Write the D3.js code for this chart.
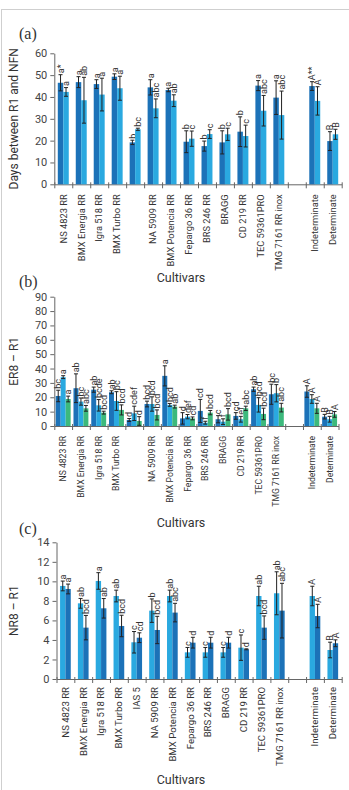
<!DOCTYPE html>
<html><head><meta charset="utf-8">
<script src="https://cdn.jsdelivr.net/npm/d3@7"></script>
<style>
body{margin:0;background:#fff;}
svg{display:block;}
text{font-family:Roboto,"Liberation Sans",sans-serif;}
</style></head>
<body><svg id="chart" width="349" height="790"></svg>
<script>
// ---------- DATA ----------
const categories = ["NS 4823 RR","BMX Energia RR","Igra 518 RR","BMX Turbo RR","IAS 5","NA 5909 RR","BMX Potencia RR","Fepargo 36 RR","BRS 246 RR","BRAGG","CD 219 RR","TEC 59361PRO","TMG 7161 RR inox","","Indeterminate","Determinate"];
const labelsAB = ["NS 4823 RR","BMX Energia RR","Igra 518 RR","BMX Turbo RR","","NA 5909 RR","BMX Potencia RR","Fepargo 36 RR","BRS 246 RR","BRAGG","CD 219 RR","TEC 59361PRO","TMG 7161 RR inox","","Indeterminate","Determinate"];
const labelsC = categories;

const ticksA = [0,10,20,30,40,50,60];
const ticksB = [0,10,20,30,40,50,60,70,80,90];
const ticksC = [0,2,4,6,8,10,12,14];

// Panel (a): days between R1 and NFN
const aDark      = [46.5,46.8,45.9,49.3,19.2,44.4,43.2,19.5,17.5,19.2,24.1,45.2,39.7,null,45.0,19.8];
const aDarkErr   = [3.7,2.5,2.0,1.3,1.0,3.5,0.8,5.0,2.3,5.3,6.8,2.3,7.7,null,2.0,4.3];
const aLight     = [42.3,38.5,41.1,44.0,25.2,34.8,38.3,20.9,23.0,22.9,22.1,33.7,31.7,null,38.2,22.9];
const aLightErr  = [2.0,10.5,7.5,5.5,0.5,4.3,2.7,3.5,2.0,2.8,5.0,7.0,11.0,null,6.5,2.3];
const aDarkLet   = ["a*","a","a","a","b","a","a","b","b","b","b","a","a","","A**","B"];
const aLightLet  = ["a","ab","a","a","bc","abc","ab","c","c","c","c","abc","abc","","A","B"];

// Panel (b): ER8 – R1
const bDark      = [20.9,26.3,25.3,23.5,4.2,15.3,34.9,5.3,10.5,4.7,7.0,25.6,22.1,null,24.0,6.5];
const bDarkErr   = [4.0,10.0,1.8,1.0,1.0,2.0,7.0,4.0,8.0,2.5,2.3,1.5,7.0,null,4.0,1.6];
const bLight     = [34.0,17.0,14.4,17.4,8.8,15.3,14.7,6.5,2.3,3.0,4.7,14.7,22.8,null,18.8,4.7];
const bLightErr  = [1.0,2.5,4.0,6.5,5.0,5.0,1.0,1.5,1.0,2.0,2.0,5.0,6.0,null,3.0,2.0];
const bGreen     = [18.8,12.3,9.3,11.2,3.5,7.7,13.5,5.3,9.3,8.1,12.3,8.4,12.8,null,12.3,8.1];
const bGreenErr  = [2.0,2.0,1.0,3.5,3.0,3.5,1.0,1.0,1.5,4.0,1.5,4.0,3.0,null,3.5,2.0];
const bDarkLet   = ["bc","ab","ab","ab","d","bcd","a","d","cd","c","cd","ab","bc","","A","B"];
const bLightLet  = ["a","bc","bcde","bc","cdef","bcd","bcd","def","f","f","ef","bcd","b","","A","B"];
const bGreenLet  = ["a","abc","bcd","bcd","d","bcd","ab","cd","bcd","bcd","abc","bcd","abc","","A","A"];

// Panel (c): NR8 – R1
const cLight     = [9.53,7.75,10.04,8.5,3.76,7.0,8.5,2.73,2.73,2.73,3.21,8.5,8.78,null,8.5,2.97];
const cLightErr  = [0.5,0.5,0.85,0.6,1.1,1.2,0.6,0.5,0.5,0.5,1.3,1.0,2.2,null,1.0,0.8];
const cDark      = [9.22,5.26,7.24,5.43,4.23,5.02,6.8,3.72,3.72,3.72,3.04,5.26,7.0,null,6.45,3.66];
const cDarkErr   = [0.5,1.25,1.0,1.1,0.5,1.4,0.95,0.55,0.55,0.55,0.05,1.2,2.8,null,1.2,0.35];
const cLightLet  = ["a","ab","a","ab","c","b","ab","c","c","c","c","ab","ab","","A","B"];
const cDarkLet   = ["a","bcd","ab","bcd","cd","bcd","abc","d","d","d","d","bcd","abc","","A","A"];

// ---------- DRAW ----------
const DARK = "#1c72b8", LIGHT = "#2aa9e0", GREEN = "#3cb97c";
const svg = d3.select("#chart");

svg.append("rect").attr("x",1.5).attr("y",9.5).attr("width",360).attr("height",800)
  .attr("fill","none").attr("stroke","#cfcfcf").attr("stroke-width",1);

function panel(o){
  const g = svg.append("g");
  const n = categories.length;
  const y = d3.scaleLinear().domain([0, o.max]).range([o.y0, o.y1]);
  const xb = d3.scaleLinear().domain([0, n]).range([o.x0, o.x1]);
  const band = d3.scaleBand().domain(d3.range(n)).range([o.x0, o.x1]).paddingInner(o.pad).paddingOuter(o.pad/2);
  const inner = d3.scaleBand().domain(d3.range(o.series.length)).range([0, band.bandwidth()]);

  // y axis
  const ya = g.append("g").attr("transform",`translate(${o.x0},0)`)
    .call(d3.axisLeft(y).tickValues(o.ticks).tickSize(4).tickSizeOuter(0).tickPadding(3));
  ya.select(".domain").attr("stroke","#666");
  ya.selectAll(".tick line").attr("stroke","#666");
  ya.selectAll(".tick text").attr("fill","#444").style("font-size","11px");

  // x axis (boundary ticks)
  const xa = g.append("g").attr("transform",`translate(0,${o.y0})`)
    .call(d3.axisBottom(xb).tickValues(d3.range(n+1)).tickSize(4).tickSizeOuter(0).tickFormat(""));
  xa.select(".domain").attr("stroke","#666");
  xa.selectAll(".tick line").attr("stroke","#666").attr("y1",-2);

  // bars
  o.series.forEach((s, si) => {
    const sg = g.append("g");
    s.vals.forEach((v, i) => {
      if (v == null) return;
      const bx = band(i) + inner(si), bw = inner.bandwidth();
      sg.append("rect").attr("x",bx).attr("y",y(v)).attr("width",bw).attr("height",y(0)-y(v)).attr("fill",s.color);
      const e = s.err[i], cx = bx + bw/2;
      sg.append("line").attr("x1",cx).attr("x2",cx).attr("y1",y(v-e)).attr("y2",y(v+e)).attr("stroke","#222").attr("stroke-width",1);
      [v-e, v+e].forEach(t => sg.append("line").attr("x1",cx-2).attr("x2",cx+2).attr("y1",y(t)).attr("y2",y(t)).attr("stroke","#222").attr("stroke-width",1));
      if (s.letters[i]) {
        sg.append("text").attr("transform",`translate(${cx},${y(v+e)-1.5}) rotate(-90)`)
          .attr("dy","0.35em").attr("text-anchor","start").attr("fill","#333")
          .style("font-size","9px").text(s.letters[i]);
      }
    });
  });

  // category labels
  const xl = d3.scaleBand().domain(d3.range(n)).range([o.x0, o.x1]);
  const la = g.append("g").attr("transform",`translate(0,${o.y0})`)
    .call(d3.axisBottom(xl).tickSize(0).tickFormat(i => o.labels[i]));
  la.select(".domain").remove();
  la.selectAll(".tick text").attr("transform",`translate(0,${o.labGap}) rotate(-90)`)
    .attr("x",0).attr("y",0).attr("dy","0.35em").attr("text-anchor","end")
    .attr("fill","#333").style("font-size",o.labSize+"px");

  // titles
  g.append("text").attr("transform",`translate(14,${(o.y0+o.y1)/2}) rotate(-90)`)
    .attr("text-anchor","middle").attr("dy","0.35em").attr("fill","#333").style("font-size","12px").text(o.ytitle);
  g.append("text").attr("x",181).attr("y",o.xtitleY).attr("text-anchor","middle").attr("dy","0.35em")
    .attr("fill","#333").style("font-size","12.5px").text("Cultivars");
  g.append("text").attr("x",19).attr("y",o.tagY).attr("dy","0.35em")
    .style("font-family","'Liberation Serif','DejaVu Serif',serif").style("font-size","16px").attr("fill","#333").text(o.tag);
}

panel({x0:54.3,x1:341.7,y0:184.3,y1:53.3,max:60,ticks:ticksA,pad:0.39,labels:labelsAB,labGap:10,labSize:9.3,
  ytitle:"Days between R1 and NFN",xtitleY:278,tag:"(a)",tagY:33,
  series:[{vals:aDark,err:aDarkErr,letters:aDarkLet,color:DARK},{vals:aLight,err:aLightErr,letters:aLightLet,color:LIGHT}]});

panel({x0:54.3,x1:338.5,y0:426,y1:296.7,max:90,ticks:ticksB,pad:0.16,labels:labelsAB,labGap:10,labSize:8.6,
  ytitle:"ER8 – R1",xtitleY:523,tag:"(b)",tagY:281,
  series:[{vals:bDark,err:bDarkErr,letters:bDarkLet,color:DARK},{vals:bLight,err:bLightErr,letters:bLightLet,color:LIGHT},{vals:bGreen,err:bGreenErr,letters:bGreenLet,color:GREEN}]});

panel({x0:56.5,x1:341.7,y0:679,y1:542.3,max:14,ticks:ticksC,pad:0.4,labels:labelsC,labGap:8,labSize:9.6,
  ytitle:"NR8 – R1",xtitleY:780,tag:"(c)",tagY:528,
  series:[{vals:cLight,err:cLightErr,letters:cLightLet,color:LIGHT},{vals:cDark,err:cDarkErr,letters:cDarkLet,color:DARK}]});
</script></body></html>
